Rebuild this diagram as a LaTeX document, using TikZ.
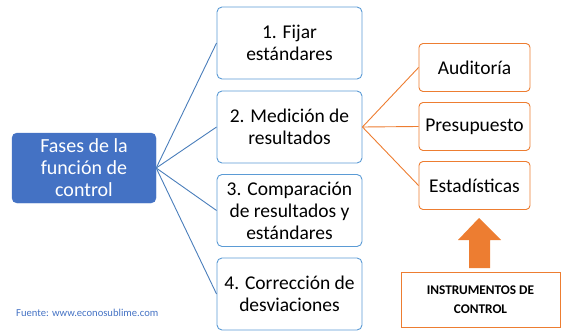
\documentclass[tikz,border=0pt]{standalone}
\usepackage{fontspec}
\setmainfont{Carlito}
\definecolor{mainblue}{HTML}{4472C4}
\definecolor{lineblue}{HTML}{4A7EBB}
\definecolor{boxblue}{HTML}{5B9BD5}
\definecolor{orng}{HTML}{ED7D31}
\begin{document}
\begin{tikzpicture}[x=1pt,y=-1pt,
  mainbox/.style={rectangle, rounded corners=5pt, fill=mainblue, draw=mainblue, text=white,
    minimum width=144pt, minimum height=70pt, align=center, inner sep=0pt,
    font=\fontsize{20}{22}\selectfont},
  phasebox/.style={rectangle, rounded corners=5pt, draw=boxblue, line width=0.9pt, fill=white,
    minimum width=145pt, minimum height=72pt, align=center, inner sep=0pt,
    font=\fontsize{19.5}{22}\selectfont},
  instbox/.style={rectangle, rounded corners=4pt, draw=orng, line width=0.9pt, fill=white,
    minimum width=111pt, minimum height=48pt, align=center, inner sep=0pt,
    font=\fontsize{19.5}{22}\selectfont},
  titlebox/.style={rectangle, draw=orng, line width=0.9pt, fill=white,
    minimum width=159pt, minimum height=55pt, align=center, inner sep=0pt,
    font=\bfseries\fontsize{13.3}{19}\selectfont},
  bconn/.style={draw=lineblue, line width=0.9pt},
  oconn/.style={draw=orng, line width=0.9pt}
]
\useasboundingbox (0,0) rectangle (563,332);
\node[mainbox] (main) at (84,168) {Fases de la\\función de\\control};
\node[phasebox] (p1) at (289.5,43) {1. Fijar\\estándares};
\node[phasebox] (p2) at (289.5,127) {2. Medición de\\resultados};
\node[phasebox] (p3) at (289.5,210.5) {3. Comparación\\de resultados y\\estándares};
\node[phasebox] (p4) at (289.5,294) {4. Corrección de\\desviaciones};
\node[instbox] (a1) at (474.5,67.5) {Auditoría};
\node[instbox] (a2) at (474.5,126.5) {Presupuesto};
\node[instbox] (a3) at (474.5,185.5) {Estadísticas};
\node[titlebox] (inst) at (480.5,299.5) {INSTRUMENTOS DE\\CONTROL};
\node[text=mainblue, font=\fontsize{10.6}{12}\selectfont, anchor=west, inner sep=0pt] (src) at (16,313) {Fuente: www.econosublime.com};
\foreach \p in {p1,p2,p3,p4} \draw[bconn] (main.east) -- (\p.west);
\foreach \a in {a1,a2,a3} \draw[oconn] (p2.east) -- (\a.west);
\fill[orng] (479,218) -- (501,240) -- (490,240) -- (490,268) -- (469,268) -- (469,240) -- (458,240) -- cycle;
\end{tikzpicture}
\end{document}
